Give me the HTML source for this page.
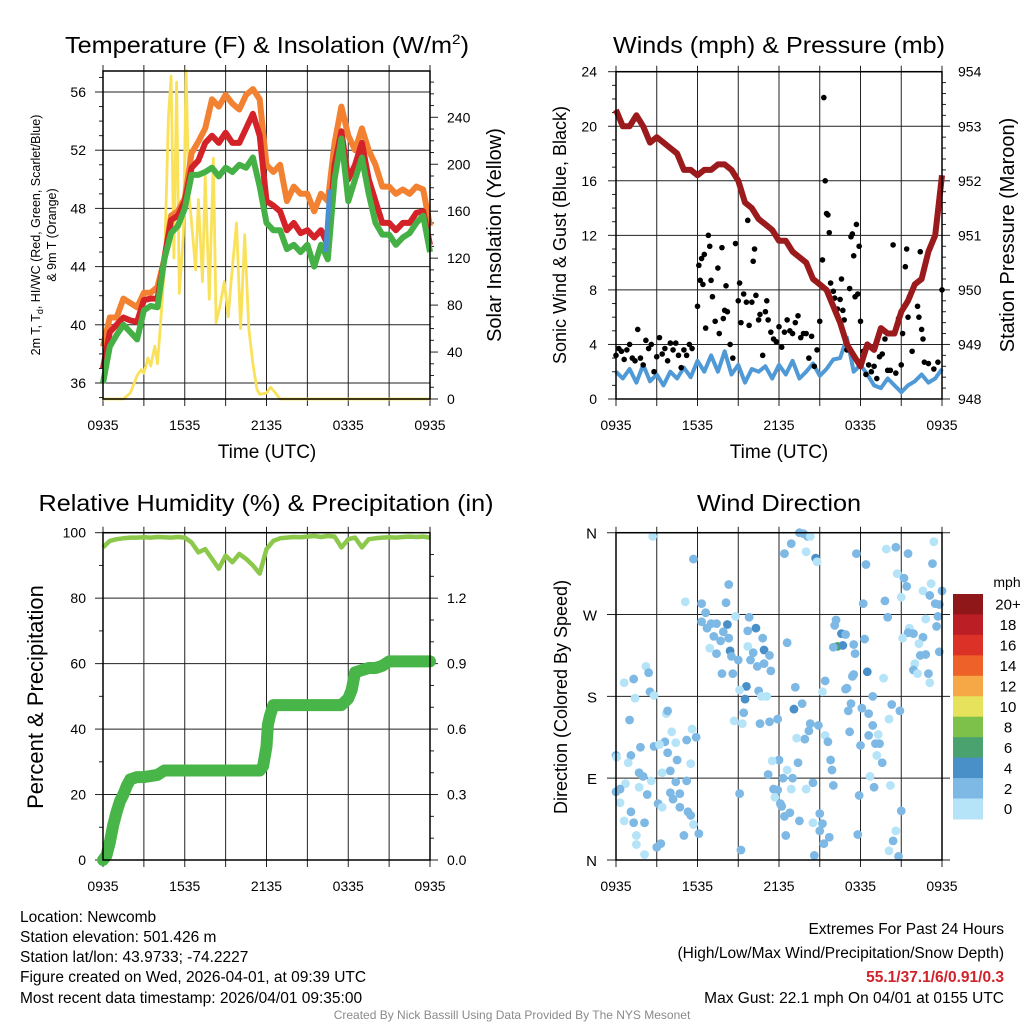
<!DOCTYPE html>
<html><head><meta charset="utf-8"><title>Newcomb Meteogram</title>
<style>
html,body{margin:0;padding:0;background:#fff;}
svg{display:block;font-family:"Liberation Sans",sans-serif;}
</style></head>
<body>
<svg id="fig" width="1024" height="1024" viewBox="0 0 1024 1024" xmlns="http://www.w3.org/2000/svg">
<rect x="0" y="0" width="1024" height="1024" fill="#fff"/>
<text x="267" y="53" font-size="23" text-anchor="middle" textLength="404" lengthAdjust="spacingAndGlyphs">Temperature (F) &amp; Insolation (W/m<tspan font-size="14" dy="-9">2</tspan><tspan dy="9">)</tspan></text>
<text x="779" y="53" font-size="23" text-anchor="middle" textLength="332" lengthAdjust="spacingAndGlyphs">Winds (mph) &amp; Pressure (mb)</text>
<text x="266" y="511" font-size="23" text-anchor="middle" textLength="455" lengthAdjust="spacingAndGlyphs">Relative Humidity (%) &amp; Precipitation (in)</text>
<text x="779" y="511" font-size="23" text-anchor="middle" textLength="164" lengthAdjust="spacingAndGlyphs">Wind Direction</text>

<text x="267" y="458" font-size="19" text-anchor="middle">Time (UTC)</text>
<text x="779" y="458" font-size="19" text-anchor="middle">Time (UTC)</text>

<text transform="translate(40,235) rotate(-90)" font-size="12.5" text-anchor="middle">2m T, T<tspan font-size="9" dy="3">d</tspan><tspan dy="-3">, HI/WC (Red, Green, Scarlet/Blue)</tspan></text>
<text transform="translate(56,235) rotate(-90)" font-size="12.5" text-anchor="middle">&amp; 9m T (Orange)</text>
<text transform="translate(501,235) rotate(-90)" font-size="20" text-anchor="middle">Solar Insolation (Yellow)</text>
<text transform="translate(566,235) rotate(-90)" font-size="18" text-anchor="middle">Sonic Wind &amp; Gust (Blue, Black)</text>
<text transform="translate(1014,235) rotate(-90)" font-size="20" text-anchor="middle">Station Pressure (Maroon)</text>
<text transform="translate(43,697) rotate(-90)" font-size="22" text-anchor="middle">Percent &amp; Precipitation</text>
<text transform="translate(567,697) rotate(-90)" font-size="18" text-anchor="middle">Direction (Colored By Speed)</text>

<g font-size="15.5">
<text x="20" y="922">Location: Newcomb</text>
<text x="20" y="942">Station elevation: 501.426 m</text>
<text x="20" y="962">Station lat/lon: 43.9733; -74.2227</text>
<text x="20" y="982">Figure created on Wed, 2026-04-01, at 09:39 UTC</text>
<text x="20" y="1003">Most recent data timestamp: 2026/04/01 09:35:00</text>
</g>
<g font-size="15.5" text-anchor="end">
<text x="1004" y="934">Extremes For Past 24 Hours</text>
<text x="1004" y="958">(High/Low/Max Wind/Precipitation/Snow Depth)</text>
<text x="1004" y="982" font-weight="bold" fill="#d0232a">55.1/37.1/6/0.91/0.3</text>
<text x="1004" y="1003">Max Gust: 22.1 mph On 04/01 at 0155 UTC</text>
</g>
<text x="512" y="1019" font-size="12" fill="#8a8a8a" text-anchor="middle">Created By Nick Bassill Using Data Provided By The NYS Mesonet</text>
<g id="plots"></g>
</svg>
<script>
// ---------- data ----------
const timeLabels = ["0935","1535","2135","0335","0935"];
const hours30 = [0,0.5,1,1.5,2,2.5,3,3.5,4,4.5,5,5.5,6,6.5,7,7.5,8,8.5,9,9.5,10,10.5,11,11.5,12,12.5,13,13.5,14,14.5,15,15.5,16,16.5,17,17.5,18,18.5,19,19.5,20,20.5,21,21.5,22,22.5,23,23.5,24];
const temp9m = [38.5,40.5,40.5,41.8,41.5,41.2,42.2,42.2,42.6,44.5,47.5,47.8,48.7,51.8,52.6,53.5,55.5,55.0,55.8,55.2,54.8,55.8,56.2,55.5,51.0,50.5,51.0,48.5,49.5,49.0,49.0,47.8,49.0,48.5,52.5,55.0,53.0,52.0,53.5,52.0,51.0,49.5,49.5,49.0,49.3,49.0,49.5,49.3,46.8];
const temp2m = [37,39.5,40,40.5,40.3,40.2,41.7,41.8,41.8,44.5,47.2,47.5,48.5,50.8,51.3,52.5,53.0,52.5,53.2,52.5,52.5,53.5,54.5,53.0,48.5,48.2,47.8,46.5,47.0,46.3,46.5,46.0,46.5,45.5,51.0,53.3,50.0,51.0,52.5,50.0,48.5,47.0,47.0,46.5,47.0,47.0,47.7,47.8,45.5];
const dewpoint = [36,38.5,39.3,40,39.5,39,41,41.3,41.2,44.5,46.3,46.8,48,50.3,50.3,50.5,50.8,50.2,50.8,50.5,51,50.8,51.5,49.5,47,46.5,46.5,45.2,45.5,45,45.5,44,45.5,44.5,50,52.8,48.5,50,51.5,49,47,46.2,46.2,45.5,46,46.3,47,47.5,45];
const windChillHours = [16.35,16.45,16.55,16.65];
const windChill = [45,46.5,48,49.3];
const solarHours = [0,1.5,2,2.5,2.8,3,3.3,3.5,3.8,4,4.2,4.5,4.8,5.0,5.2,5.4,5.6,5.9,6.1,6.3,6.5,6.8,7.0,7.3,7.5,7.8,8.1,8.3,8.6,8.9,9.2,9.4,9.8,10.1,10.4,10.7,11,11.3,11.5,12,12.3,12.6,13,24];
const solar = [0,0,5,20,25,22,35,28,45,30,60,110,240,275,120,270,90,140,280,175,150,110,170,100,190,85,205,65,80,100,70,100,150,60,140,60,30,8,4,5,10,6,0,0];
const pressure = [953.3,953.0,953.0,953.2,953.0,952.7,952.8,952.7,952.6,952.5,952.2,952.2,952.1,952.2,952.2,952.3,952.3,952.2,952.0,951.6,951.5,951.3,951.2,951.1,950.9,950.9,950.7,950.6,950.5,950.2,950.1,950.0,949.7,949.4,949.0,948.8,948.6,949.0,948.9,949.3,949.2,949.2,949.6,949.8,950.1,950.2,950.7,951.0,952.1];
const windSpeed = [2,1.5,2.2,1.2,2.5,1.3,1.8,1.0,2.0,1.5,2.3,1.6,2.8,2.0,3.2,2.0,3.5,1.8,2.5,1.2,2.2,2.0,2.4,1.5,2.5,1.8,2.8,1.5,2.0,2.6,1.7,2.2,2.9,3.0,4.5,2.0,2.5,1.8,1.0,0.8,1.5,1.0,0.5,1.0,1.3,1.8,1.2,1.5,2.2];
const gustHours = [0,0.2,0.4,0.6,0.8,1,1.2,1.4,1.6,1.8,2,2.2,2.4,2.6,2.8,3,3.2,3.4,3.6,3.8,4,4.2,4.4,4.6,4.8,5,5.2,5.4,5.6,6,6.1,6.2,6.3,6.4,6.5,6.6,6.8,6.9,7.0,7.1,7.3,7.5,7.6,7.8,7.9,8.0,8.1,8.2,8.4,8.6,8.8,9.0,9.1,9.2,9.4,9.6,9.7,9.8,10,10.1,10.2,10.3,10.5,10.6,10.8,11,11.1,11.2,11.4,11.6,11.8,12,12.2,12.4,12.6,12.8,13,13.2,13.4,13.6,13.8,14,14.2,14.4,14.6,14.8,15,15.2,15.3,15.4,15.5,15.6,15.7,15.8,16,16.1,16.3,16.5,16.6,16.7,16.8,17,17.2,17.3,17.4,17.5,17.6,17.7,17.8,17.9,18,18.2,18.4,18.6,18.8,19,19.2,19.4,19.6,19.8,20,20.2,20.4,20.6,20.8,21,21.1,21.3,21.4,21.5,21.6,21.8,22,22.2,22.3,22.4,22.5,22.6,22.7,23,23.4,23.7,24];
const gusts = [3.2,3.7,3.5,2.9,3.6,4,3.0,2.8,5.1,3.0,2.5,4.3,3.7,4.0,2.0,3.1,4.5,3.3,3.7,2.8,4.1,3.6,4.1,3.2,2.3,3.6,3.2,4.0,3.7,6.8,9.8,8.7,10.3,8.4,10.6,5.2,12,11.2,8.7,7.5,5.7,9.6,4.8,11.1,5.9,6.5,8.3,6.4,4.0,3.0,11.4,7.2,8.5,5.6,7.7,7.1,13.1,5.4,7.1,10.1,11.0,7.6,5.8,6.2,3.2,6.4,7.2,5.8,4.9,4.4,4.2,5.3,3.8,4.9,5.8,5.0,4.8,5.6,6.1,4.5,4.8,4.8,3.0,4.6,2.4,3.6,5.7,10.2,22.1,16,13.6,13.5,12.2,8.5,7.9,7.4,6.6,7.3,8.8,6.5,5.8,3.6,8.1,11.9,12.1,10.5,7.5,12.8,7.7,11.2,5.7,3.5,1.8,2.5,2.0,2.4,1.5,3.1,3.3,4.4,2.1,2.1,11.3,1.9,5.9,2.5,4.8,9.7,11.0,6.0,7.5,3.5,8.4,6.8,6.0,10.8,5.1,4.4,2.7,2.6,2.2,2.7,8.0];
const humidity = [95.5,97.5,98,98.3,98.5,98.5,98.6,98.5,98.7,98.6,98.5,98.7,98.5,97,94,95,92,89,93,91,93.5,92,90,87.5,95,97.5,98.3,98.5,98.7,98.6,98.8,99,98.7,99,98.8,95.5,98,98.5,95.5,98,98.3,98.5,98.6,98.5,98.7,98.8,98.7,98.8,98.5];
const precipHours = [0,0.25,0.5,0.75,1,1.25,1.5,1.75,2,2.5,3,4,4.5,11.5,11.75,12,12.1,12.25,12.5,17.5,18,18.25,18.5,19,19.5,20,20.5,21,24];
const precip = [0,0.02,0.08,0.16,0.22,0.27,0.30,0.34,0.37,0.38,0.38,0.39,0.41,0.41,0.43,0.52,0.62,0.66,0.71,0.71,0.74,0.78,0.86,0.87,0.88,0.88,0.89,0.91,0.91];
const dirHours = [2.7,5.7,5.1,8.3,8.1,6.3,6.6,6.3,7.0,6.7,7.4,8.2,7.9,7.2,7.7,8.3,6.9,7.4,8.4,8.5,7.8,8.6,8.8,9.8,10.3,9.7,10.8,10.9,10.1,11.3,9.9,10.4,10.9,11.4,9.0,9.7,9.6,9.5,10.5,10.7,11.1,9.1,9.4,8.7,9.3,10.6,11.3,11.9,12.6,13.2,13.1,13.7,14.3,14.9,14.2,13.9,13.3,15.4,15.6,15.8,15.9,16.0,15.4,15.2,16.2,16.1,16.6,16.9,16.3,16.0,16.7,17.5,17.6,17.5,17.4,17.0,16.9,17.3,17.1,17.2,18.0,18.1,18.6,18.3,18.5,18.9,18.9,18.6,19.1,19.3,19.4,19.2,19.6,18.7,19.0,17.9,17.8,18.2,17.7,18.4,19.9,20.6,21.5,20.7,21.2,21.4,21.0,19.8,20.0,19.7,20.3,20.1,20.9,20.2,21.0,20.6,20.4,20.1,20.8,23.4,23.3,23.2,22.6,23.1,24,23.5,23.8,23.7,22.8,23.6,21.6,21.5,21.9,21.1,22.6,22.3,22.4,22.8,22.0,21.9,22.2,23.0,23.1,23.8,0.6,1.3,2.2,2.4,1.4,2.5,2.8,1.0,3.7,3.8,4.1,3.6,4.4,3.8,5.2,5.6,5.9,2.8,3.2,1.8,1.1,0.9,0,0.05,4.5,5.5,1.7,2.0,3.4,4.0,2.6,5.2,0.7,0.3,0,1.7,4.4,4.0,4.7,2.3,4.2,0.3,4.7,3.1,3.4,1.1,5.3,5.5,0.6,1.3,2.1,5.7,6.1,1.5,5.0,1.5,3.3,3.0,2.1,9.2,9.1,12.0,11.5,13.4,11.2,12.6,12.3,13.0,11.6,11.9,12.9,14.0,14.5,11.7,12.1,12.2,12.4,12.8,13.5,14.5,15.0,15.2,15.0,15.7,15.3,12.5,14.6,13.5,13.8,14.1,14.3,12.9,12.4,14.0,14.7,14.8];
const dirDegrees = [356,331,284,303,283,282,272,262,260,255,260,259,251,246,241,244,233,227,230,224,205,205,268,267,255,252,244,231,228,225,220,213,216,208,220,235,191,177,186,180,180,187,162,153,150,150,152,155,239,190,166,172,150,148,142,133,134,137,130,110,99,82,197,185,264,258,249,248,235,234,236,237,227,204,202,189,188,172,164,141,126,167,161,243,207,180,148,137,128,138,128,115,107,92,80,71,28,282,337,325,342,344,337,315,310,301,289,285,267,200,171,155,164,82,54,32,21,10,4,350,326,304,296,291,296,282,281,268,265,257,255,250,249,244,245,238,225,226,216,209,205,205,195,229,195,199,213,206,178,185,181,154,161,164,141,130,129,118,132,144,135,125,127,124,115,107,115,113,110,106,96,92,96,98,87,87,84,78,75,80,86,74,73,72,67,63,58,62,58,53,53,49,43,41,41,39,29,27,27,17,18,14,6,11,73,110,109,107,94,99,90,90,78,77,78,78,85,69,62,59,48,52,43,41,51,40,32,25,18,27,5,360,359,356,356,348,337,339,332,328];
const dirSpeeds = [0.5,2.5,0.5,2.5,2.5,2.5,2.5,3.5,3.5,2.5,2.5,4.2,2.5,2.5,2.5,2.5,1,2.5,4.2,2.5,2.5,2.5,1,2.5,4.2,2.5,2.5,4.2,2.5,2.5,2.5,2.5,2.5,2.5,2.5,1,4.2,4.2,2.5,1,1,1,2.5,1,1,2.5,2.5,2.5,2.5,2.5,4.2,2.5,2.5,2.5,2.5,2.5,1,1,2.5,2.5,2.5,2.5,2.5,1,2.5,2.5,4.2,2.5,6.5,2.5,4.2,2.5,2.5,2.5,2.5,2.5,2.5,2.5,2.5,2.5,2.5,2.5,2.5,2.5,4.2,2.5,2.5,2.5,2.5,1,2.5,1,2.5,1,2.5,2.5,2.5,2.5,2.5,2.5,1,2.5,2.5,1,2.5,2.5,1,2.5,2.5,1,2.5,1,2.5,1,2.5,1,2.5,1,2.5,1,2.5,1,0.5,2.5,2.5,2.5,2.5,2.5,1,2.5,1,2.5,2.5,1,2.5,1,2.5,2.5,1,2.5,1,2.5,1,2.5,1,2.5,1,2.5,1,2.5,1,2.5,1,2.5,1,2.5,1,2.5,2.5,1,2.5,2.5,1,2.5,2.5,1,2.5,1,2.5,1,2.5,2.5,1,2.5,1,2.5,1,2.5,2.5,1,2.5,2.5,2.5,2.5,2.5,1,2.5,2.5,1,2.5,2.5,2.5,1,2.5,2.5,1,2.5,1,2.5,1,2.5,2.5,1,2.5,2.5,2.5,1,2.5,2.5,1,2.5,2.5,2.5,2.5,1,1,2.5,1,2.5,2.5,2.5,2.5,2.5,1,2.5,2.5,2.5,2.5,2.5,2.5,2.5,2.5,2.5,2.5,1,2.5,2.5,1,4.2,1,2.5,2.5,2.5,1,2.5,2.5,2.5,1];
const speedBinLabels = ["20+","18","16","14","12","10","8","6","4","2","0"];
const speedBinColors = ["#8f1619","#bb1e24","#dc3127","#ee6229","#f5a845","#e6e25b","#7dc14b","#4aa36f","#4a90c8","#7db9e4","#b5e3f8"];
const dirLabels = ["N","E","S","W","N"];

// ---------- helpers ----------
const NS = "http://www.w3.org/2000/svg";
const root = document.getElementById("plots");
function mk(tag, attrs, parent){
  const el = document.createElementNS(NS, tag);
  for (const k in attrs) el.setAttribute(k, attrs[k]);
  (parent || root).appendChild(el);
  return el;
}
function linScale(d0,d1,r0,r1){ return v => r0 + (v-d0)*(r1-r0)/(d1-d0); }

function frame(P, name){
  const g = mk("g", {});
  
  
  for (let h=0; h<=24; h+=3){
    const x = P.x(h);
    const ln = mk("line", {x1:x, x2:x, y1:P.y0-6, y2:P.y1+7, stroke:"#222", "stroke-width":1}, g);
    
    
  }
  timeLabels.forEach((t,i)=>{
    const tx = mk("text", {x:P.x(i*6), y:P.y1+31, "font-size":14, "text-anchor":"middle"}, g);
    tx.textContent = t;
    
    
  });
  return g;
}
function hgrid(g, P, y){
  const ln = mk("line", {x1:P.xl, x2:P.xr, y1:y, y2:y, stroke:"#222", "stroke-width":1}, g);
  
  
}
function tickLabel(g, x, y, txt, anchor){
  const t = mk("text", {x:x, y:y+5, "font-size":14, "text-anchor":anchor}, g);
  t.textContent = txt;
  
  
}
function tick(g, x1, x2, y){
  const t = mk("line", {x1:x1, x2:x2, y1:y, y2:y, stroke:"#222", "stroke-width":1}, g);
  
  
}
function border(g, P){
  const r = mk("rect", {x:P.xl, y:P.y0, width:P.xr-P.xl, height:P.y1-P.y0, fill:"none", stroke:"#000", "stroke-width":1.5}, g);
  
  
}
function pathFrom(xs, ys, fx, fy){
  return xs.map((h,i)=>(i?"L":"M")+fx(h).toFixed(1)+","+fy(ys[i]).toFixed(1)).join("");
}

// ---------- Plot 1: temperature ----------
(function(){
  const P = {xl:103, xr:430, y0:71, y1:399};
  P.x = linScale(0,24,P.xl,P.xr);
  const yT = linScale(36,56,383,92);
  const yS = linScale(0,240,399,117.3);
  const g = frame(P, 'temperature');
  for (let v=36; v<=56; v+=4){ hgrid(g,P,yT(v)); tick(g,P.xl-8,P.xl,yT(v)); tickLabel(g,86,yT(v),String(v),"end"); }
  for (let v=35; v<=57; v++){ if ((v-36)%4) tick(g,P.xl-4,P.xl,yT(v)); }
  for (let v=0; v<=270; v+=10){ tick(g,P.xr,P.xr+(v%40===0?8:4),yS(v)); }
  for (let v=0; v<=240; v+=40){ tickLabel(g,447,yS(v),String(v),"start"); }
  const sol = mk("path", {d:pathFrom(solarHours, solar, P.x, yS), fill:"none", stroke:"#f9e25a", "stroke-width":2.8, "stroke-linejoin":"round"}, g);
  
  
  const series = [[temp9m,"#f28131","orange-9m-temperature-line"],[temp2m,"#d42229","red-2m-temperature-line"],[dewpoint,"#45b045","green-dewpoint-line"]];
  series.forEach(s=>{
    const p = mk("path", {d:pathFrom(hours30, s[0], P.x, yT), fill:"none", stroke:s[1], "stroke-width":6, "stroke-linejoin":"round"}, g);
    
    
  });
  const wc = mk("path", {d:pathFrom(windChillHours, windChill, P.x, yT), fill:"none", stroke:"#4a8fd0", "stroke-width":5}, g);
  
  
  border(g,P);
})();

// ---------- Plot 2: winds & pressure ----------
(function(){
  const P = {xl:616, xr:942, y0:71.7, y1:399};
  P.x = linScale(0,24,P.xl,P.xr);
  const yW = linScale(0,24,399,71.7);
  const yP = linScale(948,954,399,71.7);
  const g = frame(P, 'winds');
  for (let v=0; v<=24; v+=4){ hgrid(g,P,yW(v)); tick(g,P.xl-8,P.xl,yW(v)); tickLabel(g,597,yW(v),String(v),"end"); }
  for (let v=1; v<24; v++){ if (v%4) tick(g,P.xl-4,P.xl,yW(v)); }
  for (let v=948; v<=954; v+=0.2){ const major = Math.abs(v-Math.round(v))<0.01; tick(g,P.xr,P.xr+(major?8:4),yP(v)); }
  for (let v=948; v<=954; v++){ tickLabel(g,958,yP(v),String(v),"start"); }
  const w = mk("path", {d:pathFrom(hours30, windSpeed, P.x, yW), fill:"none", stroke:"#4f9ad6", "stroke-width":4, "stroke-linejoin":"round"}, g);
  
  
  gustHours.forEach((h,i)=>{
    const c = mk("circle", {cx:P.x(h), cy:yW(gusts[i]), r:2.8, fill:"#000"}, g);
    
    
  });
  const p = mk("path", {d:pathFrom(hours30, pressure, P.x, yP), fill:"none", stroke:"#9b1b1d", "stroke-width":6, "stroke-linejoin":"round"}, g);
  
  
  border(g,P);
})();

// ---------- Plot 3: humidity & precip ----------
(function(){
  const P = {xl:103, xr:430, y0:532.7, y1:860};
  P.x = linScale(0,24,P.xl,P.xr);
  const yH = linScale(0,100,860,532.7);
  const yR = linScale(0,1.5,860,532.7);
  const g = frame(P, 'humidity');
  for (let v=0; v<=100; v+=20){ hgrid(g,P,yH(v)); tick(g,P.xl-8,P.xl,yH(v)); tickLabel(g,86,yH(v),String(v),"end"); }
  for (let v=10; v<100; v+=20){ tick(g,P.xl-4,P.xl,yH(v)); }
  for (let v=0; v<=1.5; v+=0.1){ const major = Math.abs(v/0.3-Math.round(v/0.3))<0.01; tick(g,P.xr,P.xr+(major?8:4),yR(v)); }
  for (let v=0; v<=1.21; v+=0.3){ tickLabel(g,447,yR(v),v.toFixed(1),"start"); }
  const rh = mk("path", {d:pathFrom(hours30, humidity, P.x, yH), fill:"none", stroke:"#8cc84b", "stroke-width":4.5, "stroke-linejoin":"round"}, g);
  
  
  const pr = mk("path", {d:pathFrom(precipHours, precip, P.x, yR), fill:"none", stroke:"#48b548", "stroke-width":12, "stroke-linejoin":"round", "stroke-linecap":"round"}, g);
  
  
  border(g,P);
})();

// ---------- Plot 4: wind direction ----------
(function(){
  const P = {xl:616, xr:942, y0:532.7, y1:860};
  P.x = linScale(0,24,P.xl,P.xr);
  const yD = linScale(0,360,860,532.7);
  const g = frame(P, 'wind-direction');
  dirLabels.forEach((lab,i)=>{
    const y = yD(i*90);
    const ln = mk("line", {x1:P.xl-9, x2:P.xr+8, y1:y, y2:y, stroke:"#222", "stroke-width":1}, g);
    
    
    const t = mk("text", {x:597, y:y+6, "font-size":15, "text-anchor":"end"}, g);
    t.textContent = lab;
    
    
  });
  function colorFor(s){ const bin = Math.min(10, Math.floor(s/2)); return speedBinColors[10-bin]; }
  dirHours.forEach((h,i)=>{
    const c = mk("circle", {cx:P.x(Math.min(24,Math.max(0,h))), cy:yD(dirDegrees[i]), r:4.4, fill:colorFor(dirSpeeds[i])}, g);
    
    
  });
  const cb = mk("g", {});
  
  
  const top = 594, bh = 20.45;
  const ut = mk("text", {x:1007, y:587, "font-size":14, "text-anchor":"middle"}, cb);
  ut.textContent = "mph";
  
  
  speedBinLabels.forEach((lab,i)=>{
    const r = mk("rect", {x:953, y:top+i*bh, width:30, height:bh+0.5, fill:speedBinColors[i]}, cb);
    
    
    const t = mk("text", {x:1008, y:top+i*bh+bh/2+5.5, "font-size":15, "text-anchor":"middle"}, cb);
    t.textContent = lab;
    
    
  });
  border(g,P);
})();
</script>
</body></html>
